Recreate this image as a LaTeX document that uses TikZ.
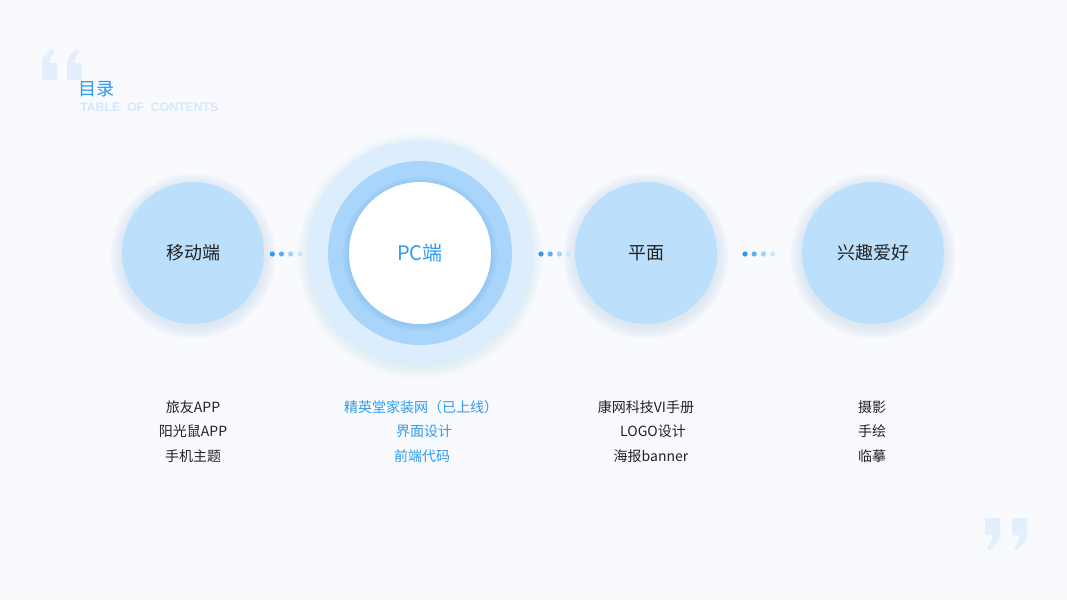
\documentclass[tikz,border=0pt]{standalone}
\usepackage{fontspec}
\setmainfont{Noto Sans CJK SC}
\newfontfamily\latinbold{Liberation Sans}[BoldFont={Liberation Sans Bold}]
\definecolor{bg}{HTML}{F8FAFE}
\definecolor{cfill}{HTML}{BCDFFC}
\definecolor{ringout}{HTML}{DCEDFD}
\definecolor{ringmid}{HTML}{A9D5FB}
\definecolor{accent}{HTML}{2F9BF0}
\definecolor{quotec}{HTML}{E3EFFC}
\definecolor{subt}{HTML}{D6E8FB}
\definecolor{txt}{HTML}{222222}
\definecolor{glowc}{HTML}{9CC6EE}
\tikzset{
  x=0.75pt, y=-0.75pt,
  circlabel/.style={font=\fontsize{13.5}{16}\selectfont, text=txt},
  itemtxt/.style={font=\fontsize{10.5}{13}\selectfont, text=txt, inner sep=0pt},
  itemblue/.style={itemtxt, text=accent},
  dotA/.style={fill=accent},
  dotB/.style={fill=accent!80},
  dotC/.style={fill=accent!45},
  dotD/.style={fill=accent!25},
}
\newcommand{\glowcircle}[2]{%
  \foreach \k in {1,...,12}{
    \fill[glowc, opacity=0.025] (#1,#2+3) circle (71+\k);
  }
}
\newcommand{\dotrow}[2]{%
  \fill[dotA] (#1,#2) circle (2.6);
  \fill[dotB] (#1+9.2,#2) circle (2.6);
  \fill[dotC] (#1+18.4,#2) circle (2.6);
  \fill[dotD] (#1+27.6,#2) circle (2.6);
}
\begin{document}
\begin{tikzpicture}
\useasboundingbox (0,0) rectangle (1067,600);
\fill[bg] (0,0) rectangle (1067,600);

% quote marks
\fill[quotec] (42,80) -- (42,64) .. controls (42,57) and (46,52) .. (53,49) -- (55,52) .. controls (51,55) and (50,58) .. (50,63) -- (57,63) -- (57,80) -- cycle;
\fill[quotec] (67,80) -- (67,64) .. controls (67,57) and (71,52) .. (78,49) -- (80,52) .. controls (76,55) and (75,58) .. (75,63) -- (82,63) -- (82,80) -- cycle;
\fill[quotec] (1000,518) -- (1000,534) .. controls (1000,541) and (996,546) .. (989,550) -- (987,547) .. controls (991,544) and (992,541) .. (992,535) -- (985,535) -- (985,518) -- cycle;
\fill[quotec] (1027,518) -- (1027,534) .. controls (1027,541) and (1023,546) .. (1016,550) -- (1014,547) .. controls (1018,544) and (1019,541) .. (1019,535) -- (1012,535) -- (1012,518) -- cycle;

% title
\node[anchor=west, inner sep=0pt, text=accent, font=\fontsize{13.5}{16}\selectfont] (title) at (78,89) {目录};
\node[anchor=west, inner sep=0pt, text=subt, font=\latinbold\bfseries\fontsize{9.2}{11}\selectfont] (subtitle) at (80,107.5) {TABLE\ \ OF\ \ CONTENTS};

% glows
\glowcircle{193}{253}
\glowcircle{646}{253}
\glowcircle{873}{253}
\foreach \k in {1,...,10}{
  \fill[glowc, opacity=0.02] (420,256) circle (113+\k);
}

% PC rings
\fill[ringout] (420,253) circle (113);
\fill[ringmid] (420,253) circle (92);
\foreach \k in {1,...,7}{
  \fill[accent, opacity=0.025] (420,254) circle (71+\k);
}

% circles
\node[circle, fill=cfill, minimum size=106.5pt, inner sep=0pt, circlabel] (c1) at (193,253) {移动端};
\node[circle, fill=white, minimum size=106.5pt, inner sep=0pt, circlabel, text=accent, font=\fontsize{15}{18}\selectfont] (c2) at (420,253) {PC端};
\node[circle, fill=cfill, minimum size=106.5pt, inner sep=0pt, circlabel] (c3) at (646,253) {平面};
\node[circle, fill=cfill, minimum size=106.5pt, inner sep=0pt, circlabel] (c4) at (873,253) {兴趣爱好};

% dots
\dotrow{272.3}{254}
\dotrow{541}{254}
\dotrow{745}{254}

% lists
\node[itemtxt] (a1) at (193,407) {旅友APP};
\node[itemtxt] (a2) at (193,431) {阳光鼠APP};
\node[itemtxt] (a3) at (193,456) {手机主题};
\node[itemblue] (b1) at (421,407) {精英堂家装网（已上线）};
\node[itemblue] (b2) at (424,431) {界面设计};
\node[itemblue] (b3) at (422,456) {前端代码};
\node[itemtxt] (d1) at (646,407) {康网科技VI手册};
\node[itemtxt] (d2) at (653,431) {LOGO设计};
\node[itemtxt] (d3) at (651,456) {海报banner};
\node[itemtxt] (e1) at (872,407) {摄影};
\node[itemtxt] (e2) at (872,431) {手绘};
\node[itemtxt] (e3) at (872,456) {临摹};
\end{tikzpicture}
\end{document}
